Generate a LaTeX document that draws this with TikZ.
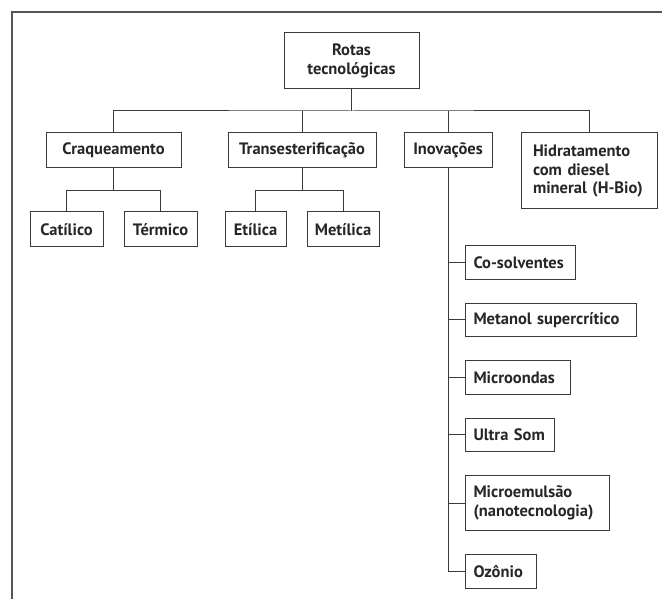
\documentclass[tikz,border=0pt]{standalone}
\usepackage{fontspec}
\setmainfont{PT Sans}
\usetikzlibrary{positioning}
\definecolor{linegray}{HTML}{3A3A3A}
\definecolor{framegray}{HTML}{555555}

\begin{document}
\begin{tikzpicture}[
    x=1pt, y=-1pt,
    node distance=23pt,
    box/.style={rectangle, draw=linegray, line width=1pt, inner sep=0pt, text=black!85, font=\fontsize{16.5}{18.5}\selectfont\bfseries, align=center, minimum height=35pt},
    leaf/.style={box, align=left, inner xsep=8pt, minimum height=33.5pt},
    link/.style={draw=linegray, line width=1pt},
]
    \useasboundingbox (0,0) rectangle (662,599);
    \draw[framegray, line width=1.3pt] (12,599) -- (12,12) -- (662,12);

    % top levels
    \node[box, minimum width=135pt, minimum height=56pt] (root) at (351.5,61) {Rotas\\tecnológicas};
    \node[box, minimum width=135pt] (craq) at (113.5,150.5) {Craqueamento};
    \node[box, minimum width=148pt] (trans) at (302,150.5) {Transesterificação};
    \node[box, minimum width=88pt] (inov) at (448,150.5) {Inovações};
    \node[box, align=left, inner xsep=12pt, text width=112pt, minimum height=76pt] (hidr) at (589,171) {\mbox{Hidratamento}\\\mbox{com diesel}\\\mbox{mineral (H-Bio)}};

    \node[box, minimum width=73pt] (catl) at (66.5,229.5) {Catílico};
    \node[box, minimum width=73pt] (term) at (160.5,229.5) {Térmico};
    \node[box, minimum width=61pt] (etil) at (255.5,229.5) {Etílica};
    \node[box, minimum width=72pt] (metl) at (343,229.5) {Metílica};

    % inovacoes column
    \node[leaf, anchor=north west, text width=94pt] (cosolv) at (465,245) {\mbox{Co-solventes}};
    \node[leaf, below=of cosolv.south west, anchor=north west, text width=155pt] (metanol) {\mbox{Metanol supercrítico}};
    \node[leaf, below=of metanol.south west, anchor=north west, text width=89pt] (microond) {\mbox{Microondas}};
    \node[leaf, below=of microond.south west, anchor=north west, text width=73pt] (ultrasom) {\mbox{Ultra Som}};
    \node[leaf, below=of ultrasom.south west, anchor=north west, text width=128pt, minimum height=55pt] (microem) {\mbox{Microemulsão}\\\mbox{(nanotecnologia)}};
    \node[leaf, below=of microem.south west, anchor=north west, text width=55pt] (ozonio) {\mbox{Ozônio}};

    % connectors
    \coordinate (bus) at (351.5,111);
    \draw[link] (root) -- (bus);
    \draw[link] (craq) |- (bus) -| (hidr);
    \draw[link] (trans) -- (trans |- bus);
    \draw[link] (inov) -- (inov |- bus);

    \draw[link] (craq.south) -- ++(0,22) coordinate (craqbus);
    \draw[link] (catl) |- (craqbus) -| (term);
    \draw[link] (trans.south) -- ++(0,22) coordinate (transbus);
    \draw[link] (etil) |- (transbus) -| (metl);

    \draw[link] (inov) |- (ozonio);
    \foreach \n in {cosolv, metanol, microond, ultrasom, microem}
        \draw[link] (\n.west) -- (\n.west -| inov.south);
\end{tikzpicture}
\end{document}
